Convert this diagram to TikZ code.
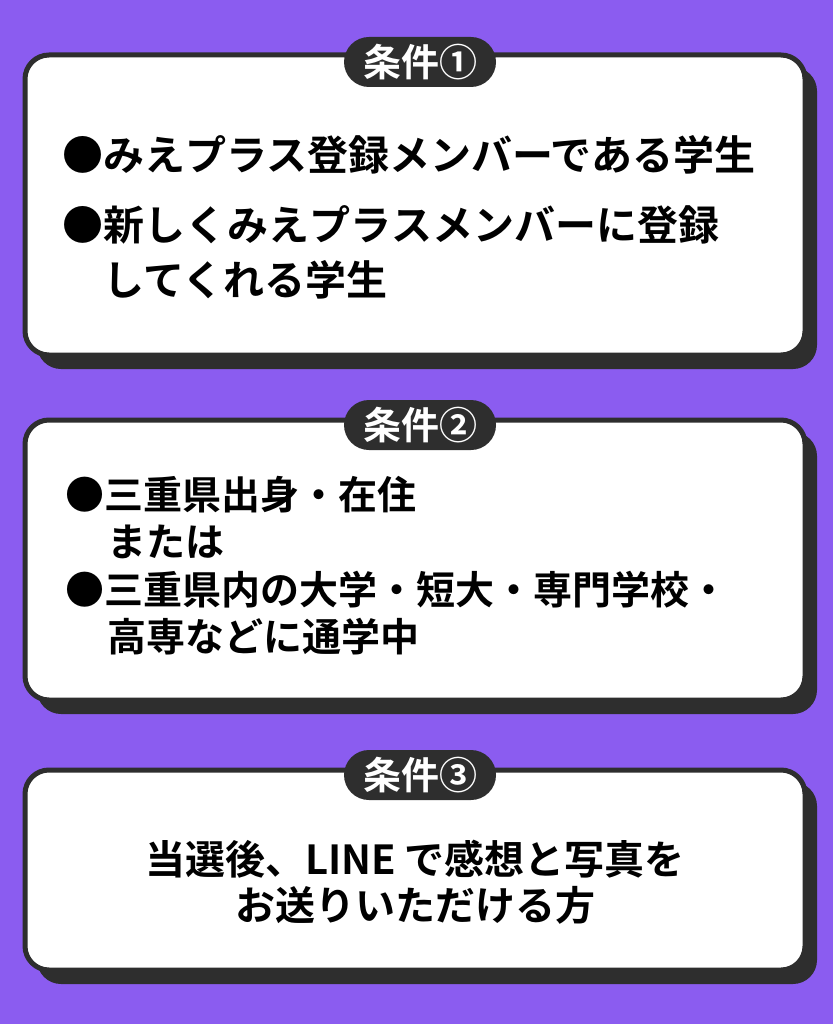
\documentclass[tikz,border=0pt]{standalone}
\usepackage{fontspec}
\setmainfont{Noto Sans CJK JP Bold}
\definecolor{bgp}{HTML}{8B5CF0}
\definecolor{dk}{HTML}{2E2E2E}
\begin{document}
\begin{tikzpicture}[x=1pt,y=-1pt,
  card/.style={draw=dk,line width=5pt,fill=white,rounded corners=24pt},
  shadow/.style={fill=dk,rounded corners=24pt},
  pill/.style={fill=dk,text=white,rounded corners=25pt,minimum width=152pt,minimum height=50pt,font=\fontsize{38}{38}\selectfont,inner sep=0pt},
  txt/.style={anchor=west,font=\fontsize{41}{44}\selectfont,inner sep=0pt},
  txtb/.style={anchor=west,font=\fontsize{39}{42}\selectfont,inner sep=0pt},
  txtc/.style={align=center,font=\fontsize{40}{46}\selectfont,inner sep=0pt}]
\fill[bgp] (0,0) rectangle (833,1024);
\useasboundingbox (0,0) rectangle (833,1024);
% box 1
\fill[shadow] (37,67) rectangle (817,369);
\draw[card] (25,55) rectangle (805,355);
\node[pill] (p1) at (420,62) {条件①};
\node[txt] (a1) at (62,155) {●みえプラス登録メンバーである学生};
\node[txt] (a2) at (62,225) {●新しくみえプラスメンバーに登録};
\node[txt] (a3) at (103,280) {してくれる学生};
% box 2
\fill[shadow] (37,432) rectangle (817,714);
\draw[card] (25,420) rectangle (805,700);
\node[pill] (p2) at (420,425) {条件②};
\node[txtb] (b1) at (65,495) {●三重県出身・在住};
\node[txtb] (b2) at (107,542) {または};
\node[txtb] (b3) at (65,590) {●三重県内の大学・短大・専門学校・};
\node[txtb] (b4) at (107,637) {高専などに通学中};
% box 3
\fill[shadow] (37,782) rectangle (817,984);
\draw[card] (25,770) rectangle (805,970);
\node[pill] (p3) at (420,775) {条件③};
\node[txtc] (c1) at (415,882) {当選後、LINE で感想と写真を\\お送りいただける方};
\end{tikzpicture}
\end{document}
